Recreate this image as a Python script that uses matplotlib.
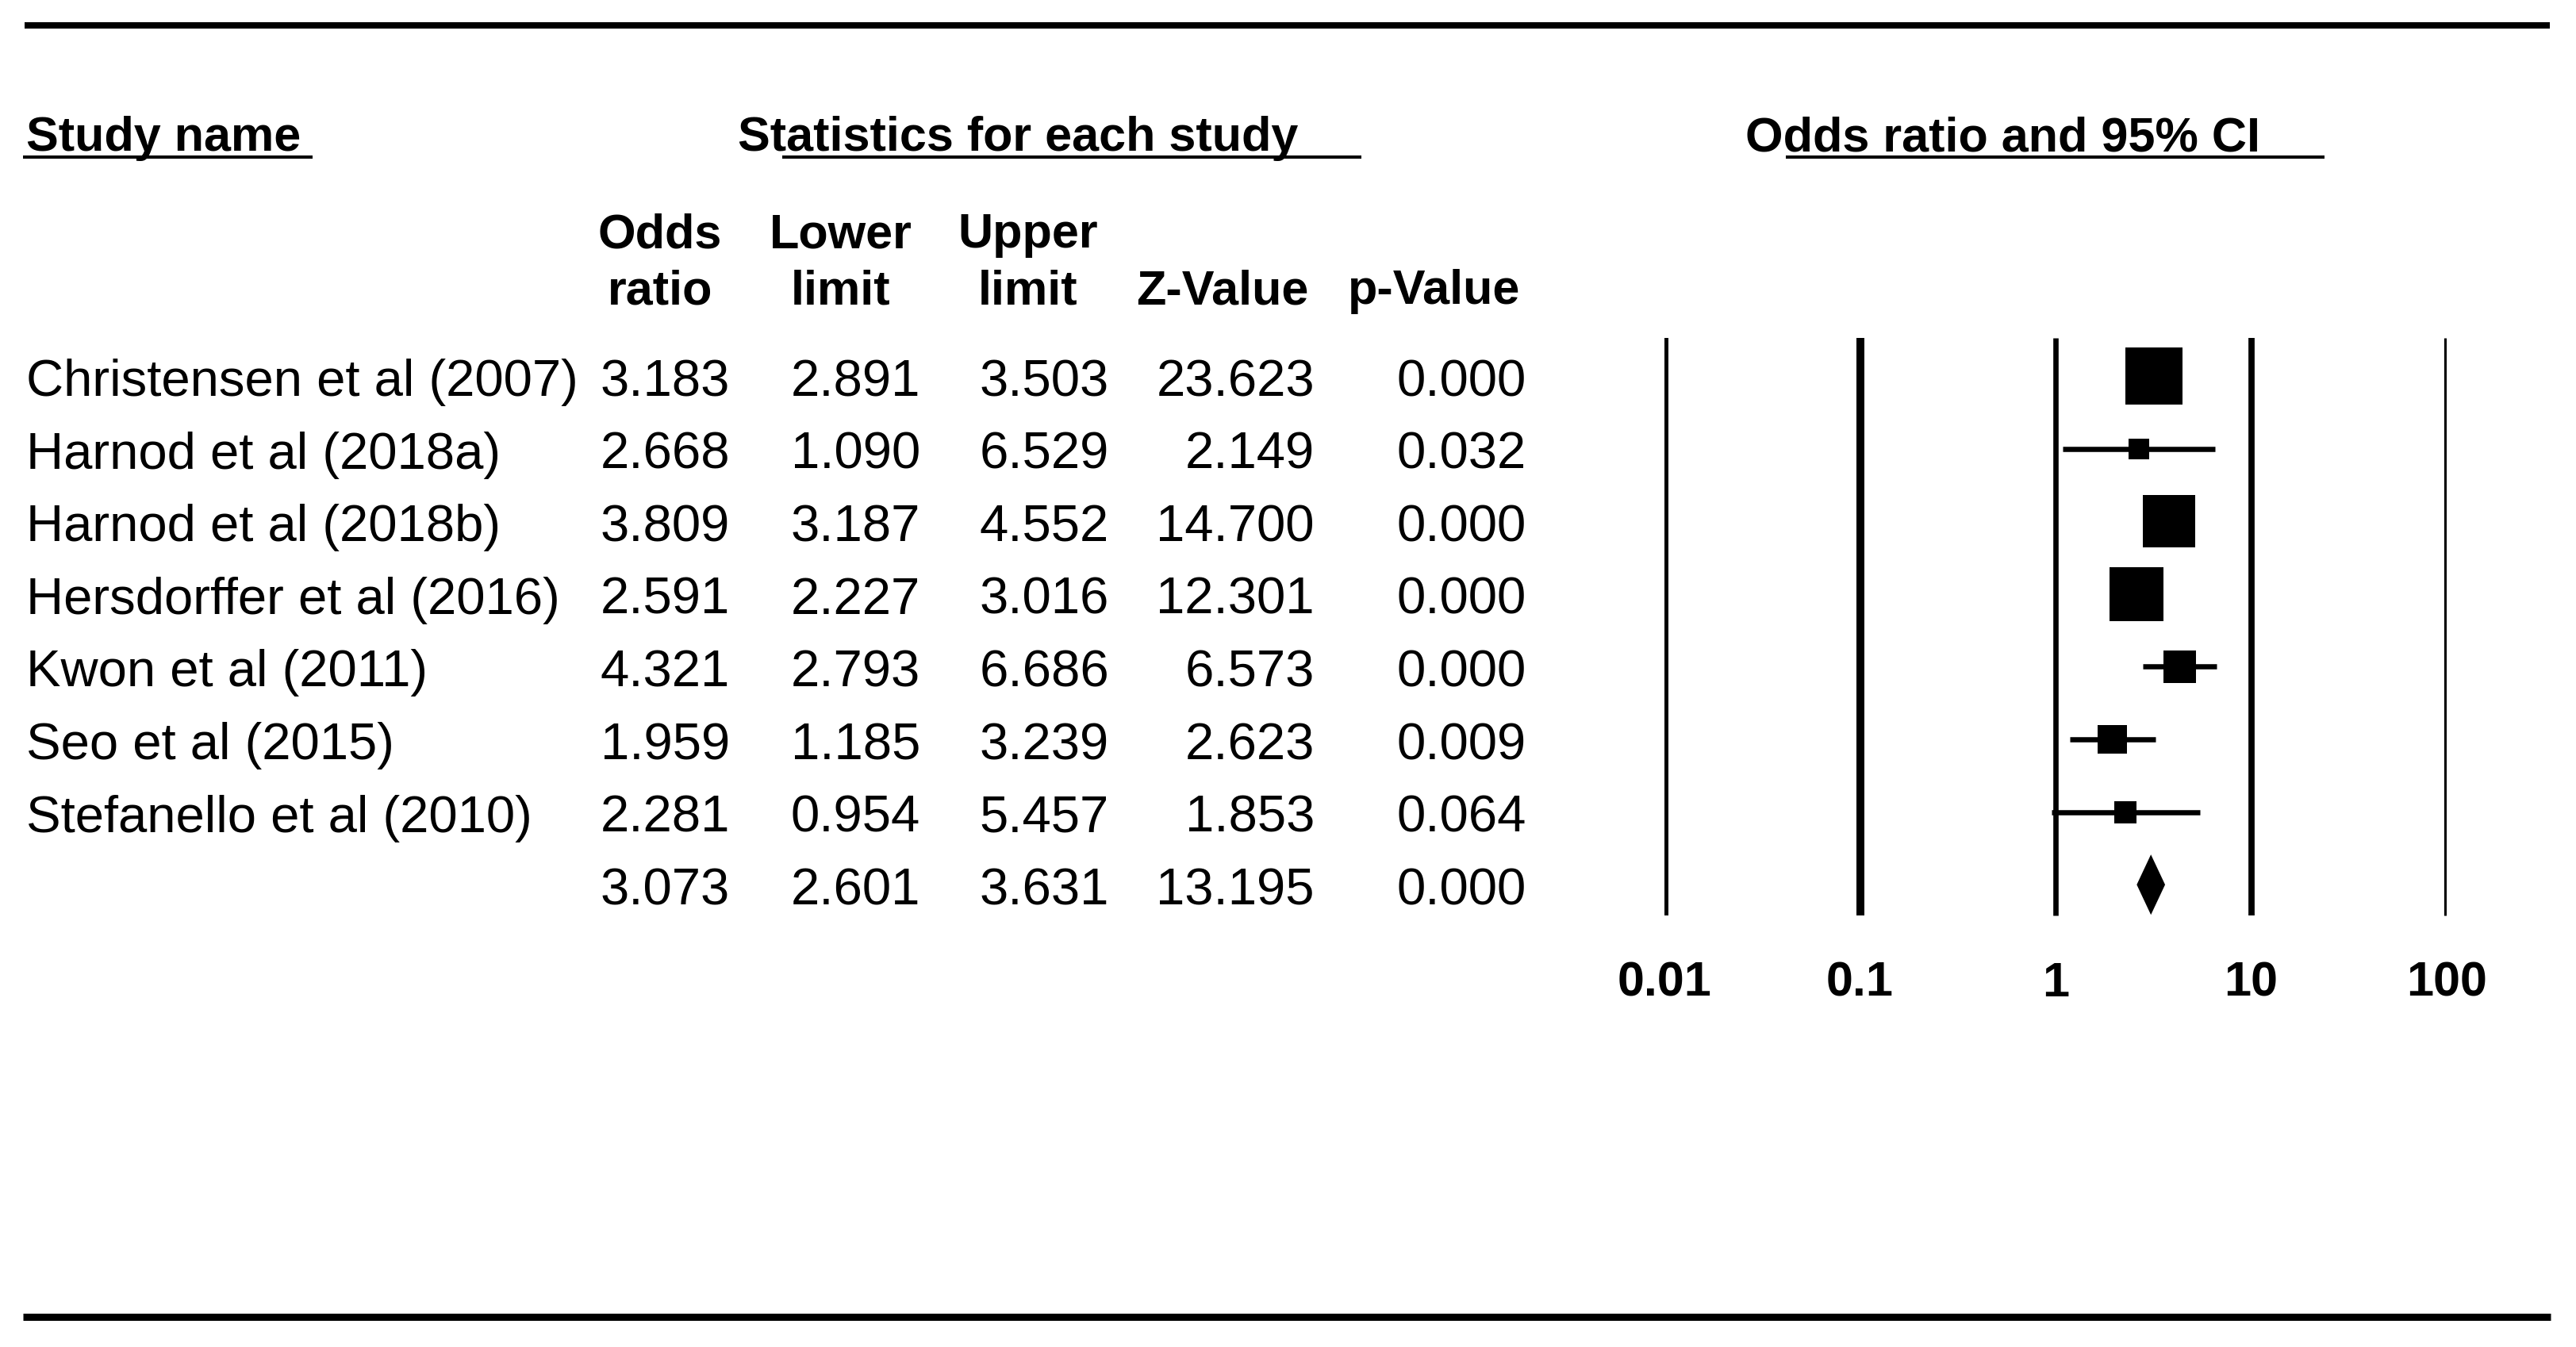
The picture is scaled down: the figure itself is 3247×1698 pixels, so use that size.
import matplotlib
matplotlib.use('Agg')
import matplotlib.pyplot as plt
from matplotlib import font_manager
import numpy as np

studies = ['Christensen et al (2007)', 'Harnod et al (2018a)', 'Harnod et al (2018b)',
           'Hersdorffer et al (2016)', 'Kwon et al (2011)', 'Seo et al (2015)',
           'Stefanello et al (2010)']
oddsRatio = [3.183, 2.668, 3.809, 2.591, 4.321, 1.959, 2.281]
lowerLimit = [2.891, 1.090, 3.187, 2.227, 2.793, 1.185, 0.954]
upperLimit = [3.503, 6.529, 4.552, 3.016, 6.686, 3.239, 5.457]
zValue = [23.623, 2.149, 14.700, 12.301, 6.573, 2.623, 1.853]
pValue = [0.000, 0.032, 0.000, 0.000, 0.000, 0.009, 0.064]
# relative weights (%)
relWeight = [27.76, 3.62, 23.33, 24.76, 9.00, 7.33, 4.20]

# pooled result
summaryOR = 3.073
summaryLower = 2.601
summaryUpper = 3.631
summaryZ = 13.195
summaryP = 0.000

axisTicks = [0.01, 0.1, 1, 10, 100]
tickLabels = ['0.01', '0.1', '1', '10', '100']

colHeads = [('Odds', 'ratio'), ('Lower', 'limit'), ('Upper', 'limit'), ('', 'Z-Value'), ('', 'p-Value')]

W, H = 3247, 1698
installed = {f.name for f in font_manager.fontManager.ttflist}
if 'Liberation Sans Narrow' in installed:
    headFont, headSize = 'Liberation Sans Narrow', 53
else:
    headFont, headSize = 'Liberation Sans', 44
bodyFont, bodySize = 'Liberation Sans', 47

fig = plt.figure(figsize=(W / 100, H / 100), dpi=100)
fig.patch.set_facecolor('white')

# table axes in pixel units
ax = fig.add_axes([0, 0, 1, 1])
ax.set_xlim(0, W)
ax.set_ylim(H, 0)
ax.axis('off')

ax.hlines(32, 31, 3214, color='black', lw=5.8)
ax.hlines(1660, 29, 3215, color='black', lw=6.5)

head = dict(family=headFont, size=headSize, weight='bold', va='baseline')
ax.text(33, 190, 'Study name', ha='left', **head)
ax.text(930, 190, 'Statistics for each study', ha='left', **head)
ax.text(2200, 190, 'Odds ratio and 95% CI', ha='left', **head)
ax.hlines(198, 29, 394, color='black', lw=2.9)
ax.hlines(198, 986, 1716, color='black', lw=2.9)
ax.hlines(198, 2251, 2930, color='black', lw=2.9)

headCenters = [832, 1060, 1296, 1541, 1808]
valRight = [920, 1160, 1398, 1657, 1924]
for cx, (l1, l2) in zip(headCenters, colHeads):
    if l1:
        ax.text(cx, 312, l1, ha='center', **head)
    ax.text(cx, 383, l2, ha='center', **head)

rowStep = 91.6
baseY = 499
body = dict(family=bodyFont, size=bodySize, va='baseline')
for i, name in enumerate(studies):
    y = baseY + i * rowStep
    ax.text(33, y, name, ha='left', **body)
    vals = ['%.3f' % oddsRatio[i], '%.3f' % lowerLimit[i], '%.3f' % upperLimit[i],
            '%.3f' % zValue[i], '%.3f' % pValue[i]]
    for xr, v in zip(valRight, vals):
        ax.text(xr, y, v, ha='right', **body)

ySum = baseY + len(studies) * rowStep
sumVals = ['%.3f' % v for v in [summaryOR, summaryLower, summaryUpper, summaryZ, summaryP]]
for xr, v in zip(valRight, sumVals):
    ax.text(xr, ySum, v, ha='right', **body)

# forest axes, log scale, same vertical pixel units
axF = fig.add_axes([2098 / W, 0, (3084 - 2098) / W, 1])
axF.set_xscale('log')
axF.set_xlim(0.01, 100)
axF.set_ylim(H, 0)
axF.axis('off')

lineWidths = [7.2, 7.2, 4.8, 5.6, 5.2]
for t, lw in zip(axisTicks, lineWidths):
    axF.vlines(t, 426, 1154, color='black', lw=lw)
for t, lab in zip(axisTicks, tickLabels):
    axF.text(t, 1256, lab, ha='center', **head)

rowCenters = [baseY - 25 + i * rowStep for i in range(len(studies))]
axF.hlines(rowCenters, lowerLimit, upperLimit, color='black', lw=4.7)
sidePt = [72 * np.sqrt(w / relWeight[0]) * 0.72 for w in relWeight]
axF.scatter(oddsRatio, rowCenters, s=[p ** 2 for p in sidePt], marker='s',
            color='black', linewidths=0, zorder=3)

yc = baseY - 25 + len(studies) * rowStep
axF.fill([summaryLower, summaryOR, summaryUpper, summaryOR], [yc, yc - 38, yc, yc + 38],
         color='black', lw=0)

fig.savefig('out.png', dpi=100, facecolor='white')
